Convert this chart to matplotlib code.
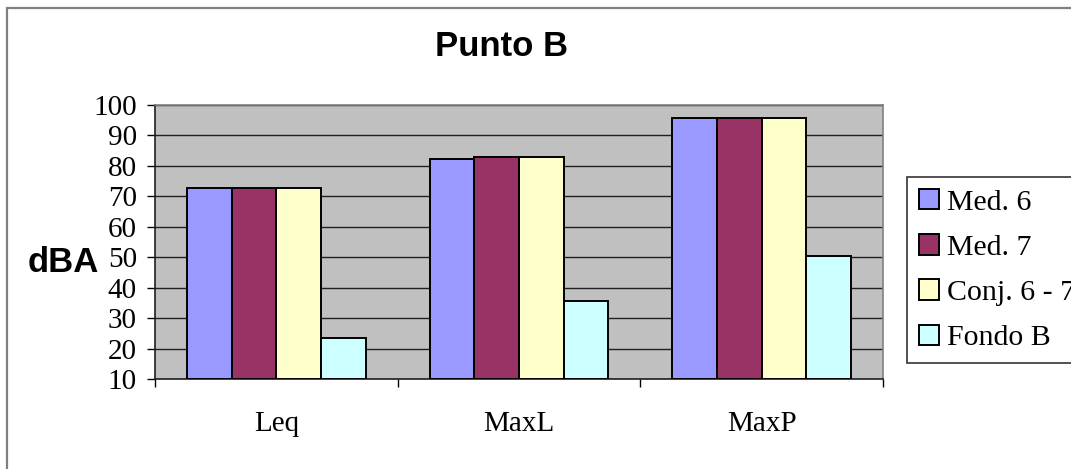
import matplotlib.pyplot as plt
import numpy as np
from matplotlib.patches import Patch, Rectangle

categories = ["Leq", "MaxL", "MaxP"]
series_names = ["Med. 6", "Med. 7", "Conj. 6 - 7", "Fondo B"]
med_6 = [72.8, 82.1, 95.6]
med_7 = [72.8, 82.9, 95.6]
conj_6_7 = [72.8, 82.8, 95.6]
fondo_b = [23.6, 35.5, 50.4]
yticks = [10, 20, 30, 40, 50, 60, 70, 80, 90, 100]

colors = ["#9999FF", "#993366", "#FFFFCC", "#CCFFFF"]
serif = "Liberation Serif"
sans = "Liberation Sans"

W, H = 1071, 469
fig = plt.figure(figsize=(W / 100, H / 100), dpi=100)
fig.patch.set_facecolor("white")

# outer chart border (only left and top edges fall inside the image)
fig.add_artist(Rectangle((7 / W, -0.1), 1.2, 1 - 8 / H + 0.1, transform=fig.transFigure,
                         fill=False, edgecolor="#808080", lw=1.6))

ax = fig.add_axes([155 / W, 1 - 379 / H, (883 - 155) / W, (379 - 105) / H])
ax.set_facecolor("#C0C0C0")

x = np.arange(len(categories))
width = 0.184
all_series = [med_6, med_7, conj_6_7, fondo_b]
for i, (vals, color) in enumerate(zip(all_series, colors)):
    ax.bar(x + (i - 1.5) * width, np.array(vals) - 10, width, bottom=10,
           color=color, edgecolor="black", lw=1.4, zorder=3)

ax.set_xlim(-0.5, 2.5)
ax.set_ylim(10, 100)
ax.set_yticks(yticks)
ax.set_yticklabels([str(t) for t in yticks], fontfamily=serif, fontsize=21)
ax.yaxis.grid(True, color="#202020", lw=1.0, zorder=1)
ax.set_axisbelow(True)

# category ticks sit on the boundaries, labels in the middle
ax.set_xticks([-0.5, 0.5, 1.5, 2.5])
ax.set_xticklabels([])
ax.set_xticks(x, minor=True)
ax.set_xticklabels(categories, minor=True, fontfamily=serif, fontsize=21)
ax.tick_params(axis="x", which="minor", length=0, pad=23)
ax.tick_params(axis="x", which="major", length=6, width=1, direction="out")
ax.tick_params(axis="y", length=6, width=1, direction="out", pad=7)

for side in ("top", "right"):
    ax.spines[side].set_color("#808080")
    ax.spines[side].set_linewidth(1.2)
for side in ("left", "bottom"):
    ax.spines[side].set_color("#202020")
    ax.spines[side].set_linewidth(1.2)

fig.text(502 / W, 1 - 46 / H, "Punto B", ha="center", va="center",
         fontfamily=sans, fontweight="bold", fontsize=25)
fig.text(63 / W, 1 - 262 / H, "dBA", ha="center", va="center",
         fontfamily=sans, fontweight="bold", fontsize=25)

handles = [Patch(facecolor=c, edgecolor="black", lw=1.4) for c in colors]
leg = fig.legend(handles, series_names, loc="upper left",
                 bbox_to_anchor=(907 / W, 1 - 177 / H), bbox_transform=fig.transFigure,
                 prop={"family": serif, "size": 21.5}, frameon=True, fancybox=False,
                 edgecolor="black", borderaxespad=0, borderpad=0.4,
                 handlelength=0.68, handleheight=0.68, handletextpad=0.25,
                 labelspacing=0.62)
leg.get_frame().set_linewidth(1.2)

fig.savefig("out.png", dpi=100)
